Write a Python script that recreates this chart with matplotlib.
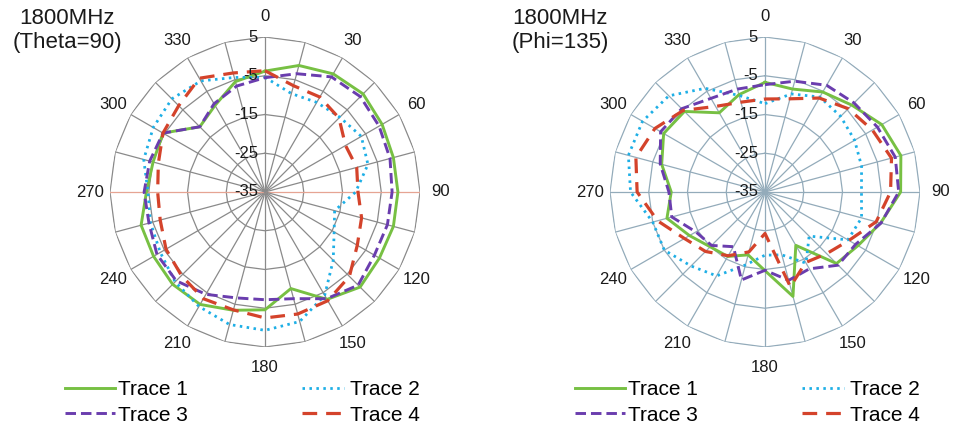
import numpy as np
import matplotlib
matplotlib.use('Agg')
import matplotlib.pyplot as plt
from matplotlib.lines import Line2D

plt.rcParams['font.family'] = ['Liberation Sans', 'DejaVu Sans']

# category axis (degrees) and radial scale
angles = [0, 15, 30, 45, 60, 75, 90, 105, 120, 135, 150, 165,
          180, 195, 210, 225, 240, 255, 270, 285, 300, 315, 330, 345]
angle_labels = [0, 30, 60, 90, 120, 150, 180, 210, 240, 270, 300, 330]
ring_values = [-25, -15, -5, 5]
radial_labels = [5, -5, -15, -25, -35]
r_min, r_max = -35, 5

trace_names = ['Trace 1', 'Trace 2', 'Trace 3', 'Trace 4']

# 1800MHz (Theta=90)
theta_t1 = [-3.8, -1.2, 0.2, 0.8, -0.1, -0.7, -0.7, -0.7, -0.9, -0.3, -3.0, -9.2,
            -4.6, -3.4, -1.5, -1.3, -1.8, -1.9, -4.4, -5.1, -4.6, -11.2, -9.2, -5.5]
theta_t2 = [-5.4, -8.7, -8.3, -7.7, -6.3, -7.5, -11.6, -16.4, -14.4, -10.1, -4.2, -0.4,
            0.7, 0.4, -0.9, -2.2, -3.8, -4.4, -4.8, -2.6, -1.7, -1.0, -1.9, -4.4]
theta_t3 = [-5.5, -3.4, -0.7, -0.2, -1.0, -1.6, -2.2, -2.3, -2.4, -1.0, -3.2, -6.5,
            -7.2, -6.7, -4.5, -2.6, -2.8, -4.0, -3.8, -4.2, -4.6, -11.2, -8.7, -6.7]
theta_t4 = [-3.7, -6.6, -6.7, -8.0, -11.0, -10.5, -11.0, -9.2, -7.5, -4.2, -2.6, -2.4,
            -2.5, -3.5, -3.2, -4.5, -5.5, -7.0, -7.3, -6.5, -4.6, -3.5, -1.1, -3.2]

# 1800MHz (Phi=135)
phi_t1 = [-6.7, -7.5, -5.2, -3.3, -0.2, 1.3, 0.0, -4.1, -7.3, -8.9, -19.1, -7.1,
          -14.7, -18.2, -15.8, -15.0, -12.5, -8.8, -10.8, -7.4, -4.8, -5.6, -11.4, -9.0]
phi_t2 = [-12.2, -8.8, -6.7, -7.4, -8.3, -9.2, -10.1, -9.2, -10.3, -18.9, -13.8, -18.2,
          -18.7, -15.5, -10.0, -8.0, -5.0, -5.0, -0.3, 1.5, 1.5, 0.1, -4.1, -9.2]
phi_t3 = [-7.3, -5.4, -3.2, -2.5, -1.5, -0.2, -0.5, -4.0, -8.0, -8.3, -12.1, -11.4,
          -14.8, -11.5, -18.7, -15.5, -14.4, -10.1, -10.2, -7.0, -3.9, -4.6, -7.1, -7.5]
phi_t4 = [-11.0, -10.1, -7.0, -4.6, -3.0, -1.2, -2.6, -5.3, -10.0, -12.5, -14.0, -9.7,
          -24.3, -19.0, -16.0, -13.3, -11.0, -6.3, -2.0, -0.5, -2.2, -5.2, -9.5, -11.0]

styles = [
    dict(color='#77C043', lw=2.1, linestyle='-'),
    dict(color='#1EAFE6', lw=2.0, linestyle=(0, (0.9, 1.6))),
    dict(color='#6A3DAE', lw=2.1, linestyle=(0, (3.6, 1.7))),
    dict(color='#D4432B', lw=2.3, linestyle=(0, (4.6, 2.8))),
]

W, H = 955, 433
fig = plt.figure(figsize=(W / 100, H / 100), dpi=100)


def draw_radar(cx, cy, radius, traces, grid_color, axis_color):
    ax = fig.add_axes([(cx - radius) / W, (H - cy - radius) / H,
                       2 * radius / W, 2 * radius / H], projection='polar')
    ax.set_theta_zero_location('N')
    ax.set_theta_direction(-1)
    ax.set_ylim(r_min, r_max)
    ax.grid(False)
    ax.set_xticks([])
    ax.set_yticks([])
    ax.spines['polar'].set_visible(False)
    ax.patch.set_visible(False)

    th = np.deg2rad(angles + [360])
    for v in ring_values:
        ax.plot(th, [v] * len(th), color=grid_color, lw=0.9, zorder=1)
    for a in angles:
        c = axis_color if a in (90, 270) else grid_color
        ax.plot([np.deg2rad(a)] * 2, [r_min, r_max], color=c, lw=0.9, zorder=1)

    for vals, st in zip(traces, styles):
        ax.plot(th, list(vals) + [vals[0]], zorder=3, **st)

    for a in angle_labels:
        ax.text(np.deg2rad(a), r_max + 5.2, str(a), ha='center', va='center',
                fontsize=12, color='#1a1a1a', clip_on=False)
    for v in radial_labels:
        ax.annotate(str(v), xy=(0, v), xytext=(-7, 0), textcoords='offset pixels',
                    ha='right', va='center', fontsize=12, color='#1a1a1a', zorder=5)
    return ax


def draw_legend(x1, x2, y_top):
    h = [Line2D([], [], **st) for st in styles]
    fig.legend([h[0], h[2]], [trace_names[0], trace_names[2]], loc='upper left',
               bbox_to_anchor=(x1 / W, 1 - y_top / H), frameon=False, fontsize=15,
               borderpad=0, borderaxespad=0, handlelength=2.4, handletextpad=0.15,
               labelspacing=0.32)
    fig.legend([h[1], h[3]], [trace_names[1], trace_names[3]], loc='upper left',
               bbox_to_anchor=(x2 / W, 1 - y_top / H), frameon=False, fontsize=15,
               borderpad=0, borderaxespad=0, handlelength=2.0, handletextpad=0.32,
               labelspacing=0.32)


draw_radar(265, 192, 155, [theta_t1, theta_t2, theta_t3, theta_t4], '#8a8a8a', '#E6A493')
draw_radar(765, 192, 155, [phi_t1, phi_t2, phi_t3, phi_t4], '#93ABBA', '#93ABBA')

fig.text(67 / W, 1 - 8 / H, '1800MHz\n(Theta=90)', ha='center', va='top',
         fontsize=16, color='#1a1a1a')
fig.text(560 / W, 1 - 8 / H, '1800MHz\n(Phi=135)', ha='center', va='top',
         fontsize=16, color='#1a1a1a')

draw_legend(65, 302, 380)
draw_legend(575, 802, 380)

fig.savefig('out.png', dpi=100, facecolor='white')
